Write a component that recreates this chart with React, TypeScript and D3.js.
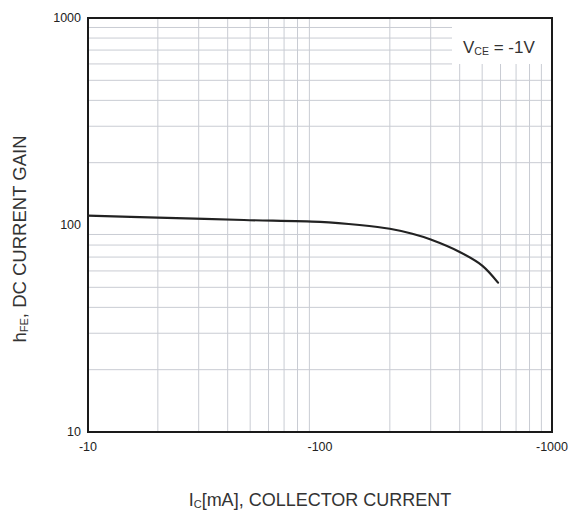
import { useRef, useEffect } from 'react'
import * as d3 from 'd3'

// collector current magnitude (mA), plotted as negative values
const icValues = [10, 20, 47, 100, 148, 200, 250, 300, 400, 500, 585]
const hfeValues = [110.9, 108.5, 105.7, 103.6, 100.0, 95.9, 90.7, 85.1, 74.1, 63.7, 52.7]
const xTicks = [10, 100, 1000]
const yTicks = [10, 100, 1000]

const W = 579
const H = 516
const margin = { top: 18, right: 27, bottom: 84, left: 88 }

export default function App() {
  const svgRef = useRef<SVGSVGElement>(null)

  useEffect(() => {
    if (!svgRef.current) return
    const svg = d3.select(svgRef.current)
    svg.selectAll('*').remove()

    const x = d3.scaleLog().domain([10, 1000]).range([margin.left, W - margin.right])
    const y = d3.scaleLog().domain([10, 1000]).range([H - margin.bottom, margin.top])
    const [x0, x1] = x.range()
    const [y0, y1] = y.range()

    const minor: number[] = []
    for (const dec of [10, 100]) for (let k = 2; k <= 9; k++) minor.push(dec * k)

    // V_CE label box covers the grid in the top right corner
    const boxX = 452
    const boxY = 64

    const g = svg.append('g')
    // vertical grid
    g.selectAll('.vg')
      .data(minor)
      .join('line')
      .attr('x1', (d) => x(d))
      .attr('x2', (d) => x(d))
      .attr('y1', (d) => (x(d) > boxX ? boxY : y1))
      .attr('y2', y0)
      .attr('stroke', (d) => (d === 100 ? '#8e93a0' : '#c9ccd3'))
      .attr('stroke-width', (d) => (d === 100 ? 1.4 : 1))
    // horizontal grid
    g.selectAll('.hg')
      .data(minor)
      .join('line')
      .attr('x1', x0)
      .attr('x2', (d) => (y(d) < boxY ? boxX : x1))
      .attr('y1', (d) => y(d))
      .attr('y2', (d) => y(d))
      .attr('stroke', (d) => (d === 100 ? '#8e93a0' : '#c9ccd3'))
      .attr('stroke-width', (d) => (d === 100 ? 1.4 : 1))

    // frame
    g.append('rect')
      .attr('x', x0)
      .attr('y', y1)
      .attr('width', x1 - x0)
      .attr('height', y0 - y1)
      .attr('fill', 'none')
      .attr('stroke', '#1a1a1a')
      .attr('stroke-width', 2)

    // curve
    const line = d3
      .line<number>()
      .x((d) => x(d))
      .y((_, i) => y(hfeValues[i]))
      .curve(d3.curveCatmullRom.alpha(0.5))
    g.append('path')
      .attr('d', line(icValues))
      .attr('fill', 'none')
      .attr('stroke', '#222')
      .attr('stroke-width', 2.2)
      .attr('stroke-linecap', 'round')

    const font = 'Liberation Sans, Arial, sans-serif'
    // y tick labels
    g.selectAll('.yt')
      .data(yTicks)
      .join('text')
      .attr('x', x0 - 7)
      .attr('y', (d) => y(d) + 4)
      .attr('text-anchor', 'end')
      .attr('font-family', font)
      .attr('font-size', 12.5)
      .attr('fill', '#222')
      .text((d) => d)
    // x tick labels
    g.selectAll('.xt')
      .data(xTicks)
      .join('text')
      .attr('x', (d) => x(d))
      .attr('y', y0 + 19)
      .attr('text-anchor', 'middle')
      .attr('font-family', font)
      .attr('font-size', 12.5)
      .attr('fill', '#222')
      .text((d) => `-${d}`)

    // V_CE annotation
    const vce = g
      .append('text')
      .attr('x', 463)
      .attr('y', 53)
      .attr('font-family', font)
      .attr('font-size', 17)
      .attr('fill', '#333')
    vce.append('tspan').text('V')
    vce.append('tspan').attr('font-size', 10.5).attr('dy', 2).text('CE')
    vce.append('tspan').attr('dy', -2).text(' = -1V')

    // x axis title
    const xt = g
      .append('text')
      .attr('x', (x0 + x1) / 2)
      .attr('y', 506)
      .attr('text-anchor', 'middle')
      .attr('font-family', font)
      .attr('font-size', 18)
      .attr('fill', '#333')
    xt.append('tspan').text('I')
    xt.append('tspan').attr('font-size', 11).attr('dy', 2).text('C')
    xt.append('tspan').attr('dy', -2).text('[mA], COLLECTOR CURRENT')

    // y axis title
    const yt = g
      .append('text')
      .attr('transform', `translate(26,${(y0 + y1) / 2 + 14}) rotate(-90)`)
      .attr('text-anchor', 'middle')
      .attr('font-family', font)
      .attr('font-size', 18.5)
      .attr('fill', '#333')
    yt.append('tspan').text('h')
    yt.append('tspan').attr('font-size', 11).attr('dy', 2).text('FE')
    yt.append('tspan').attr('dy', -2).text(', DC CURRENT GAIN')
  }, [])

  return (
    <svg
      ref={svgRef}
      width={W}
      height={H}
      style={{ position: 'absolute', left: 0, top: 0, background: '#fff' }}
    />
  )
}
